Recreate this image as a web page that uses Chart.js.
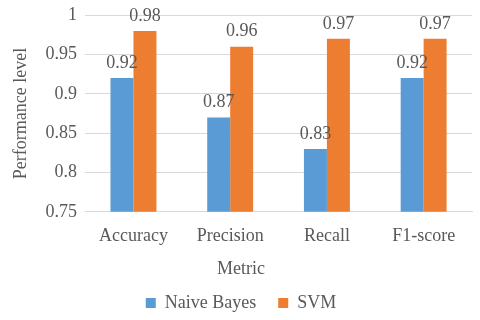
<!DOCTYPE html>
<html>
<head>
<meta charset="utf-8">
<script src="https://cdn.jsdelivr.net/npm/chart.js@4"></script>
<style>
  html, body { margin: 0; padding: 0; background: #fff; }
  #wrap { width: 480px; height: 320px; }
</style>
</head>
<body>
<div id="wrap"><canvas id="myChart"></canvas></div>
<script>
// Metrics on x axis
const metrics = ['Accuracy', 'Precision', 'Recall', 'F1-score'];
// Scores per classifier
const naiveBayes = [0.92, 0.87, 0.83, 0.92];
const svm = [0.98, 0.96, 0.97, 0.97];
// Y axis ticks
const yTicks = [0.75, 0.8, 0.85, 0.9, 0.95, 1];

const textColor = '#595959';
const serif = "'Liberation Serif', 'Times New Roman', serif";

// draw value above each bar
const valueLabels = {
    id: 'valueLabels',
    afterDatasetsDraw(chart) {
        const ctx = chart.ctx;
        ctx.save();
        ctx.font = '18px ' + serif;
        ctx.fillStyle = textColor;
        ctx.textAlign = 'center';
        ctx.textBaseline = 'bottom';
        chart.data.datasets.forEach((ds, i) => {
            chart.getDatasetMeta(i).data.forEach((bar, j) => {
                ctx.fillText(ds.data[j].toFixed(2), bar.x, bar.y - 6);
            });
        });
        ctx.restore();
    },
};

const ctx = document.getElementById('myChart').getContext('2d');
new Chart(ctx, {
    type: 'bar',
    data: {
        labels: metrics,
        datasets: [
            { label: 'Naive Bayes', data: naiveBayes, backgroundColor: '#5B9BD5' },
            { label: 'SVM', data: svm, backgroundColor: '#ED7D31' },
        ],
    },
    options: {
        responsive: true,
        maintainAspectRatio: false,
        animation: false,
        layout: { padding: { top: -12, right: 8, left: 10, bottom: -2 } },
        datasets: {
            bar: { categoryPercentage: 0.475, barPercentage: 1 },
        },
        plugins: {
            tooltip: { enabled: false },
            legend: {
                position: 'bottom',
                title: {
                    display: true,
                    text: 'Metric',
                    color: textColor,
                    font: { family: serif, size: 18 },
                    padding: { top: 7, bottom: -10 },
                },
                labels: {
                    boxWidth: 10,
                    boxHeight: 10,
                    padding: 22,
                    color: textColor,
                    font: { family: serif, size: 18 },
                },
            },
        },
        scales: {
            x: {
                grid: { display: false },
                border: { color: '#d9d9d9' },
                ticks: { color: textColor, font: { family: serif, size: 18 }, padding: 6 },
            },
            y: {
                min: 0.75,
                max: 1,
                afterBuildTicks: (axis) => {
                    axis.ticks = yTicks.map((v) => ({ value: v }));
                },
                grid: { color: '#d9d9d9', drawTicks: false },
                border: { display: false },
                ticks: {
                    color: textColor,
                    font: { family: serif, size: 18, lineHeight: 0.8 },
                    padding: 8,
                    callback: (v) => String(Math.round(v * 100) / 100),
                },
                title: {
                    display: true,
                    text: 'Performance level',
                    color: textColor,
                    font: { family: serif, size: 18 },
                    padding: { top: 0, bottom: 6 },
                },
            },
        },
    },
    plugins: [valueLabels],
});
</script>
</body>
</html>
